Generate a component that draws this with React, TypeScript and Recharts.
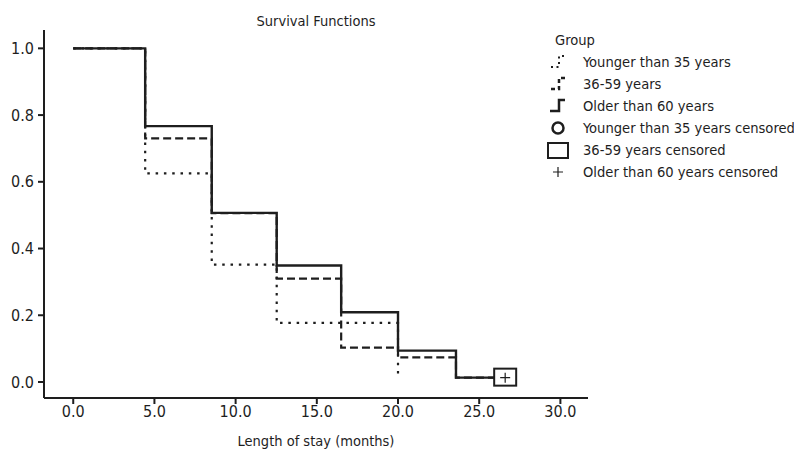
import React from "react";
import {
  ComposedChart, Line, Scatter, XAxis, YAxis,
} from "recharts";

// Kaplan-Meier estimates
const youngTimes = [0, 4.43, 8.53, 12.53, 20.0];
const youngSurv = [1.0, 0.625, 0.352, 0.177, 0.022];

const midTimes = [0, 4.43, 8.53, 12.53, 16.5, 20.0, 23.57, 26.6];
const midSurv = [1.0, 0.73, 0.506, 0.31, 0.103, 0.074, 0.013, 0.013];

const oldTimes = [0, 4.43, 8.53, 12.53, 16.5, 20.0, 23.57, 26.6];
const oldSurv = [1.0, 0.767, 0.507, 0.349, 0.209, 0.094, 0.013, 0.013];

const midCensored = [{ t: 26.6, s: 0.013 }];
const oldCensored = [{ t: 26.6, s: 0.013 }];

const xTicks = [0, 5, 10, 15, 20, 25, 30];
const yTicks = [0, 0.2, 0.4, 0.6, 0.8, 1.0];

const legendItems = [
  { key: "young", label: "Younger than 35 years" },
  { key: "mid", label: "36-59 years" },
  { key: "old", label: "Older than 60 years" },
  { key: "youngC", label: "Younger than 35 years censored" },
  { key: "midC", label: "36-59 years censored" },
  { key: "oldC", label: "Older than 60 years censored" },
];

const INK = "#1e1e1e";
const FONT = "'Liberation Sans Narrow', 'DejaVu Sans Condensed', sans-serif";

const zip = (ts: number[], ss: number[]) => ts.map((t, i) => ({ t, s: ss[i] }));
const youngData = zip(youngTimes, youngSurv);
const midData = zip(midTimes, midSurv);
const oldData = zip(oldTimes, oldSurv);

function LegendIcon({ kind }: { kind: string }) {
  return (
    <svg width={26} height={20} style={{ flex: "none" }}>
      {kind === "young" && (
        <path d="M6 15 H14 V4 H20" fill="none" stroke={INK} strokeWidth={2} strokeDasharray="2 3.5" />
      )}
      {kind === "mid" && (
        <path d="M6 15 H14 V4 H20" fill="none" stroke={INK} strokeWidth={2.5} strokeDasharray="4 3" />
      )}
      {kind === "old" && (
        <path d="M5 15 H14 V4 H20" fill="none" stroke={INK} strokeWidth={2.5} />
      )}
      {kind === "youngC" && <circle cx={13} cy={10} r={5.5} fill="none" stroke={INK} strokeWidth={2.5} />}
      {kind === "midC" && <rect x={3} y={3} width={20} height={15} fill="none" stroke={INK} strokeWidth={2} />}
      {kind === "oldC" && (
        <path d="M8 10 H18 M13 5 V15" fill="none" stroke={INK} strokeWidth={1.2} />
      )}
    </svg>
  );
}

function GroupLegend() {
  return (
    <div
      style={{
        position: "absolute", left: 545, top: 29, width: 249,
        fontFamily: FONT, fontSize: 14.6, color: INK, lineHeight: "22px", whiteSpace: "nowrap",
      }}
    >
      <div style={{ paddingLeft: 10 }}>Group</div>
      {legendItems.map((it) => (
        <div key={it.key} style={{ display: "flex", alignItems: "center", gap: 12, height: 22 }}>
          <LegendIcon kind={it.key} />
          <span>{it.label}</span>
        </div>
      ))}
    </div>
  );
}

const squareShape = (props: any) => (
  <rect x={props.cx - 11} y={props.cy - 9} width={22} height={17} fill="#fff" stroke={INK} strokeWidth={2} />
);

const plusShape = (props: any) => (
  <path
    d={`M${props.cx - 5} ${props.cy} H${props.cx + 5} M${props.cx} ${props.cy - 5} V${props.cy + 5}`}
    stroke={INK}
    strokeWidth={1.2}
    fill="none"
  />
);

export default function App() {
  return (
    <div style={{ position: "absolute", left: 0, top: 0, width: 794, height: 453, background: "#fff" }}>
      <div
        style={{
          position: "absolute", left: 0, width: 632, top: 13, textAlign: "center",
          fontFamily: FONT, fontSize: 14.5, color: INK,
        }}
      >
        Survival Functions
      </div>
      <ComposedChart width={794} height={453} margin={{ top: 30, right: 206, bottom: 25, left: 4 }}>
        <XAxis
          dataKey="t"
          type="number"
          domain={[-1.8, 31.7]}
          ticks={xTicks}
          tickFormatter={(v: number) => v.toFixed(1)}
          allowDataOverflow
          height={30}
          axisLine={{ stroke: INK, strokeWidth: 2 }}
          tickLine={{ stroke: INK, strokeWidth: 2 }}
          tickSize={6}
          tick={{ fill: INK, fontSize: 16, fontFamily: FONT }}
        />
        <YAxis
          dataKey="s"
          type="number"
          domain={[-0.048, 1.055]}
          ticks={yTicks}
          tickFormatter={(v: number) => v.toFixed(1)}
          allowDataOverflow
          width={40}
          axisLine={{ stroke: INK, strokeWidth: 2 }}
          tickLine={{ stroke: INK, strokeWidth: 2 }}
          tickSize={6}
          tickMargin={4}
          tick={{ fill: INK, fontSize: 16, fontFamily: FONT }}
        />
        <Line
          data={youngData}
          dataKey="s"
          type="stepAfter"
          stroke={INK}
          strokeWidth={2.2}
          strokeDasharray="2.5 5.8"
          dot={false}
          isAnimationActive={false}
        />
        <Line
          data={midData}
          dataKey="s"
          type="stepAfter"
          stroke={INK}
          strokeWidth={2.2}
          strokeDasharray="8 4"
          dot={false}
          isAnimationActive={false}
        />
        <Line
          data={oldData}
          dataKey="s"
          type="stepAfter"
          stroke={INK}
          strokeWidth={2.4}
          dot={false}
          isAnimationActive={false}
        />
        <Scatter data={midCensored} dataKey="s" shape={squareShape} isAnimationActive={false} />
        <Scatter data={oldCensored} dataKey="s" shape={plusShape} isAnimationActive={false} />
      </ComposedChart>
      <GroupLegend />
      <div
        style={{
          position: "absolute", left: 0, width: 632, top: 433, textAlign: "center",
          fontFamily: FONT, fontSize: 14.5, color: INK,
        }}
      >
        Length of stay (months)
      </div>
    </div>
  );
}
